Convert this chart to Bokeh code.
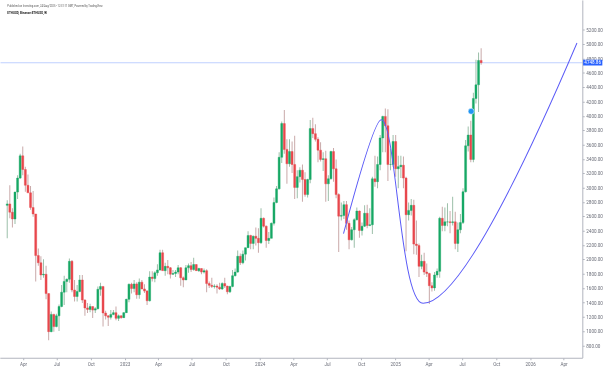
import numpy as np
import pandas as pd
from bokeh.plotting import figure
from bokeh.models import (ColumnDataSource, FixedTicker, CustomJSTickFormatter,
                          NumeralTickFormatter, Label, Range1d)
from bokeh.core.properties import value
from bokeh.embed import file_html
from bokeh.resources import INLINE

# ---------------- data (weekly ETHUSD candles, weeks starting Sunday) ----------------
first_week = "2022-02-20"
opens = [
    2760, 2780, 2665, 2570, 2945, 3140, 3450, 3260, 3040, 2935, 2730, 2640, 2060, 1960, 1790,
    1800, 1530, 1000, 1240, 1070, 1220, 1350, 1550, 1700, 1730, 1980, 1580, 1490, 1560, 1720,
    1440, 1330, 1310, 1350, 1300, 1320, 1590, 1630, 1260, 1220, 1200, 1240, 1265, 1185, 1220,
    1195, 1265, 1450, 1660, 1600, 1665, 1515, 1690, 1595, 1565, 1430, 1760, 1740, 1820, 1860,
    2100, 1850, 1910, 1890, 1800, 1810, 1830, 1890, 1750, 1720, 1890, 1920, 1865, 1935, 1850,
    1880, 1830, 1850, 1670, 1645, 1630, 1635, 1620, 1595, 1670, 1635, 1555, 1630, 1780, 1830,
    2050, 1960, 2080, 2170, 2340, 2230, 2330, 2300,
    2240, 2580, 2470, 2270, 2300, 2510, 2800, 2990, 3430, 3900, 3540, 3340, 3510, 3330, 3010,
    3160, 3250, 3120, 2910, 3120, 3830, 3760, 3680, 3530, 3400, 3410, 3060, 3130, 3510, 3270,
    2910, 2610, 2620, 2770, 2510, 2280, 2420, 2560, 2680, 2410, 2470, 2650, 2480, 2490, 3130,
    3090, 3330, 3700, 4000, 3870, 3330, 3330,
    3650, 3270, 3300, 3320, 3140, 2630, 2690, 2760, 2220, 2200, 1910, 1980, 1830, 1810, 1640,
    1610, 1790, 1840, 2580, 2480, 2530, 2530, 2520, 2530, 2230, 2420, 2520, 2950, 3590, 3740,
    3400, 4250, 4440, 4780,
]
highs = [
    2830, 3040, 2720, 2950, 3180, 3480, 3580, 3300, 3190, 3030, 2960, 2640, 2160, 2050, 2010,
    1920, 1530, 1280, 1250, 1250, 1380, 1650, 1780, 1740, 2020, 2000, 1720, 1650, 1790, 1790,
    1450, 1400, 1390, 1350, 1340, 1630, 1680, 1630, 1290, 1230, 1300, 1300, 1350, 1240, 1230,
    1270, 1460, 1670, 1680, 1720, 1690, 1740, 1720, 1660, 1580, 1840, 1840, 1840, 1940, 2140,
    2140, 1960, 2000, 1900, 1860, 1860, 1930, 1900, 1770, 1930, 1950, 1970, 2030, 1940, 1890,
    1880, 1880, 1870, 1700, 1750, 1660, 1660, 1680, 1690, 1750, 1640, 1640, 1860, 1880, 2130,
    2090, 2130, 2170, 2400, 2350, 2340, 2450, 2440,
    2720, 2590, 2480, 2390, 2520, 2870, 3030, 3500, 3930, 4090, 3680, 3680, 3650, 3730, 3250,
    3290, 3330, 3220, 3130, 3950, 3980, 3890, 3710, 3640, 3500, 3520, 3180, 3520, 3560, 3400,
    2930, 2800, 2820, 2820, 2550, 2460, 2580, 2730, 2690, 2520, 2760, 2770, 2720, 3160, 3450,
    3440, 3740, 4010, 4110, 4100, 3550, 3740,
    3740, 3450, 3450, 3440, 3160, 2800, 2850, 2840, 2550, 2230, 2070, 2100, 1950, 1820, 1690,
    1830, 1880, 2600, 2740, 2730, 2790, 2680, 2880, 2670, 2520, 2640, 3000, 3670, 3860, 3940,
    4330, 4790, 4890, 4950,
]
lows = [
    2300, 2580, 2450, 2500, 2850, 3130, 3180, 2950, 2950, 2700, 2600, 1700, 1920, 1720, 1750,
    1450, 880, 990, 1000, 1060, 1010, 1340, 1370, 1550, 1680, 1550, 1420, 1420, 1550, 1400,
    1220, 1260, 1270, 1190, 1260, 1310, 1500, 1070, 1170, 1080, 1170, 1230, 1160, 1150, 1180,
    1190, 1260, 1410, 1530, 1550, 1460, 1460, 1590, 1540, 1370, 1420, 1700, 1690, 1780, 1850,
    1860, 1780, 1800, 1740, 1790, 1760, 1800, 1640, 1620, 1720, 1820, 1830, 1850, 1850, 1830,
    1800, 1810, 1550, 1610, 1610, 1600, 1530, 1580, 1580, 1610, 1520, 1540, 1620, 1770, 1820,
    1930, 1940, 1990, 2170, 2150, 2150, 2200, 2100,
    2220, 2450, 2170, 2220, 2300, 2480, 2790, 2980, 3350, 3480, 3060, 3300, 3210, 2850, 2860,
    3080, 2810, 2880, 2870, 3070, 3700, 3650, 3360, 3370, 3240, 2810, 2820, 3120, 3090, 2860,
    2110, 2550, 2570, 2420, 2150, 2270, 2170, 2550, 2310, 2340, 2460, 2440, 2470, 2360, 3020,
    3000, 3250, 3500, 3500, 3100, 3250, 3300,
    3160, 3000, 3140, 3000, 2120, 2550, 2620, 2080, 2070, 1760, 1870, 1790, 1760, 1385, 1560,
    1570, 1750, 1750, 2400, 2400, 2470, 2370, 2480, 2150, 2110, 2370, 2500, 2940, 3510, 3360,
    3360, 4180, 4060, 4720,
]
closes = [
    2780, 2665, 2570, 2945, 3140, 3450, 3260, 3040, 2935, 2730, 2640, 2060, 1960, 1790, 1800,
    1530, 1000, 1240, 1070, 1220, 1350, 1550, 1700, 1730, 1980, 1580, 1490, 1560, 1720, 1440,
    1330, 1310, 1350, 1300, 1320, 1590, 1630, 1260, 1220, 1200, 1240, 1265, 1185, 1220, 1195,
    1265, 1450, 1660, 1600, 1665, 1515, 1690, 1595, 1565, 1430, 1760, 1740, 1820, 1860, 2100,
    1850, 1910, 1890, 1800, 1810, 1830, 1890, 1750, 1720, 1890, 1920, 1865, 1935, 1850, 1880,
    1830, 1850, 1670, 1645, 1630, 1635, 1620, 1595, 1670, 1635, 1555, 1630, 1780, 1830, 2050,
    1960, 2080, 2170, 2340, 2230, 2330, 2300, 2240,
    2580, 2470, 2270, 2300, 2510, 2800, 2990, 3430, 3900, 3540, 3340, 3510, 3330, 3010, 3160,
    3250, 3120, 2910, 3120, 3830, 3760, 3680, 3530, 3400, 3410, 3060, 3130, 3510, 3270, 2910,
    2610, 2620, 2770, 2510, 2280, 2420, 2560, 2680, 2410, 2470, 2650, 2480, 2490, 3130, 3090,
    3330, 3700, 4000, 3870, 3330, 3330, 3650,
    3270, 3300, 3320, 3140, 2630, 2690, 2760, 2220, 2200, 1910, 1980, 1830, 1810, 1640, 1610,
    1790, 1840, 2580, 2480, 2530, 2530, 2520, 2530, 2230, 2420, 2520, 2950, 3590, 3740, 3400,
    4250, 4440, 4780, 4748.86,
]
last_price = 4748.86

price_ticks = list(range(800, 5201, 200))
time_tick_dates = ["2022-04-01", "2022-07-01", "2022-10-01", "2023-01-01", "2023-04-01",
                   "2023-07-01", "2023-10-01", "2024-01-01", "2024-04-01", "2024-07-01",
                   "2024-10-01", "2025-01-01", "2025-04-01", "2025-07-01", "2025-10-01",
                   "2026-01-01", "2026-04-01"]
time_tick_labels = ["Apr", "Jul", "Oct", "2023", "Apr", "Jul", "Oct", "2024", "Apr", "Jul",
                    "Oct", "2025", "Apr", "Jul", "Oct", "2026", "Apr"]

# hand-drawn curve (anchor + control points: date, price)
curve_up_start = ("2024-08-13", 2367)
curve_up_ctrl = ("2024-11-03", 3953)
curve_top = ("2024-11-23", 3953)
curve_down_ctrl1 = ("2025-01-02", 3953)
curve_down_ctrl2 = ("2025-01-13", 1395)
curve_bottom = ("2025-03-16", 1395)
curve_rise_ctrl = ("2025-07-10", 1395)
curve_end = ("2026-05-06", 5023)

event_marker = ("2025-07-24", 4071)

header_line1 = "Published on Investing.com, 24/Aug/2025 - 12:31:11 GMT, Powered by TradingView."
header_line2 = "ETHUSD, Binance:ETHUSD, W"

# ---------------- build ----------------
CSS_SCALE = 0.4 ** 0.5      # display scale of the page element
K = 1 / CSS_SCALE           # layout pixels per displayed pixel

def ms(d):
    return pd.Timestamp(d).value / 1e6

def px(v):
    return f"{v * K:.2f}px"

DAY = 86400000.0
T0 = ms("2023-01-01")
o = np.array(opens, float); h = np.array(highs, float)
l = np.array(lows, float); c = np.array(closes, float)
dates = pd.date_range(first_week, periods=len(opens), freq="7D")
x = np.array([ms(d) for d in dates]) - 4 * DAY

up = c >= o
GREEN, RED = "#17a865", "#e8474c"
src = ColumnDataSource(dict(
    x=x, top=np.maximum(o, c), bottom=np.minimum(o, c), high=h, low=l,
    color=np.where(up, GREEN, RED),
    wick=np.where(up, "#9cbfa9", "#c9a9a9"),
))

# view window (time and price) and where the price scale sits
x_start = T0 - 337.67 * DAY
x_end = T0 + 1305.2 * DAY
axis_x = T0 + 1237.6 * DAY
y_lo, y_hi = 628.6, 5618.1

# displayed frame 608 x 358 px; borders in layout px
BORDER_R, BORDER_B = 120, 50
W = int(round((608 * K + BORDER_R) * K))
H = int(round((358 * K + BORDER_B) * K))
p = figure(width=W, height=H, x_axis_type="datetime",
           y_axis_location="right", output_backend="svg", toolbar_location=None,
           x_range=Range1d(x_start, x_end), y_range=Range1d(y_lo, y_hi),
           min_border_left=0, min_border_right=BORDER_R, min_border_top=0,
           min_border_bottom=BORDER_B)
p.stylesheets = [
    f":host {{ position: fixed !important; left: 0px !important; top: 0px !important; "
    f"transform: scale({CSS_SCALE:.6f}); transform-origin: 0 0; }}"
]
p.outline_line_color = None
p.grid.visible = False
p.background_fill_color = "white"
p.border_fill_color = "white"

FONT = "Roboto"
for ax in (p.xaxis[0], p.yaxis[0]):
    ax.axis_line_color = "#b2b5be"
    ax.axis_line_width = K
    ax.major_tick_line_color = "#b2b5be"
    ax.major_tick_line_width = K
    ax.minor_tick_line_color = None
    ax.major_tick_in = 0
    ax.major_tick_out = int(round(2 * K))
    ax.major_label_text_font = FONT
    ax.major_label_text_font_size = px(4.6)
    ax.major_label_text_color = "#6a6d78"
    ax.major_label_standoff = int(round(1 * K))

p.yaxis.fixed_location = axis_x
p.yaxis.ticker = FixedTicker(ticks=price_ticks)
p.yaxis.formatter = NumeralTickFormatter(format="0.00")

tick_ms = [ms(d) for d in time_tick_dates]
p.xaxis.bounds = (x_start, axis_x)
p.xaxis.ticker = FixedTicker(ticks=tick_ms)
p.xaxis.formatter = CustomJSTickFormatter(
    args=dict(vals=tick_ms, labels=time_tick_labels),
    code="const i = vals.indexOf(tick); return i >= 0 ? labels[i] : '';")

# last price line (up to the price scale)
p.segment(x0=[x_start], y0=[last_price], x1=[axis_x], y1=[last_price],
          line_color="#2962ff", line_alpha=0.3, line_width=K)

# candles
p.segment(x0="x", y0="low", x1="x", y1="high", line_color="wick", line_width=K, source=src)
p.vbar(x="x", width=5.4 * DAY, top="top", bottom="bottom", fill_color="color",
       line_color="color", line_width=0.4 * K, source=src)

# curve
CURVE = "#5b5bf7"
p.quadratic(x0=[ms(curve_up_start[0])], y0=[curve_up_start[1]],
            x1=[ms(curve_top[0])], y1=[curve_top[1]],
            cx=[ms(curve_up_ctrl[0])], cy=[curve_up_ctrl[1]],
            line_color=CURVE, line_width=K)
p.bezier(x0=[ms(curve_top[0])], y0=[curve_top[1]],
         x1=[ms(curve_bottom[0])], y1=[curve_bottom[1]],
         cx0=[ms(curve_down_ctrl1[0])], cy0=[curve_down_ctrl1[1]],
         cx1=[ms(curve_down_ctrl2[0])], cy1=[curve_down_ctrl2[1]],
         line_color=CURVE, line_width=K)
p.quadratic(x0=[ms(curve_bottom[0])], y0=[curve_bottom[1]],
            x1=[ms(curve_end[0])], y1=[curve_end[1]],
            cx=[ms(curve_rise_ctrl[0])], cy=[curve_rise_ctrl[1]],
            line_color=CURVE, line_width=K)

# event marker
p.scatter(x=[ms(event_marker[0])], y=[event_marker[1]], size=6 * K, marker="circle",
          fill_color="#2196f3", line_color="white", line_width=0.5 * K)

# last price tag on the price scale
p.add_layout(Label(x=axis_x, y=last_price, x_units="data", y_units="data",
                   text=f"{last_price:.2f}", text_color="white", text_font=FONT,
                   text_font_size=px(4.6), text_baseline="middle", text_align="left",
                   background_fill_color="#2962ff", padding=int(round(1 * K))))

# header texts (top-left corner of the chart)
header_x = T0 - 318.8 * DAY
p.text(x=[header_x], y=[5538.7], text=[header_line1], text_font=value(FONT),
       text_font_size=px(2.6), text_color="#555555", text_baseline="middle")
p.text(x=[header_x], y=[5441.0], text=[header_line2], text_font=value(FONT),
       text_font_size=px(3.0), text_color="#222222", text_font_style="bold",
       text_baseline="middle")

open("out.html", "w").write(file_html(p, INLINE))
